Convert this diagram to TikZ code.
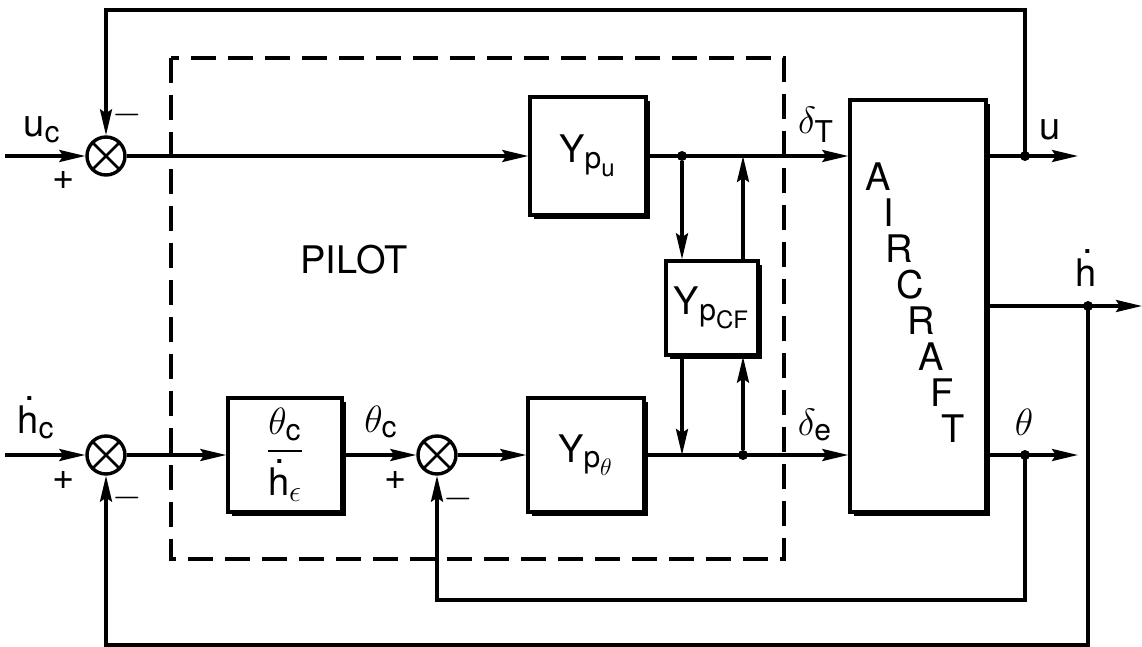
\documentclass[tikz,border=0pt]{standalone}
\usepackage{fix-cm}
\usepackage{amsmath}
\usepackage{fontspec}
\setmainfont{TeX Gyre Heros}
\DeclareMathSizes{19}{19}{15}{12}
\newcommand{\hdot}{\mbox{h\llap{\raisebox{0.86em}{.}\hspace{0.1em}}}}
\usetikzlibrary{arrows.meta,shadows,calc}

\begin{document}
\begin{tikzpicture}[x=0.5pt,y=-0.5pt,
    font=\fontsize{19}{22}\selectfont,
    sig/.style={line width=1.7pt, -{Stealth[length=13pt,width=6pt,inset=2pt]}},
    blockbox/.style={draw, line width=1.7pt, fill=white, inner sep=0pt,
        drop shadow={shadow xshift=1.8pt, shadow yshift=-1.8pt, opacity=1, fill=black}},
    sumnode/.style={circle, draw, line width=1.7pt, minimum size=19pt, inner sep=0pt,
        path picture={\draw[line width=1.4pt]
            (path picture bounding box.north west) -- (path picture bounding box.south east)
            (path picture bounding box.north east) -- (path picture bounding box.south west);}},
    dot/.style={circle, fill, inner sep=0pt, minimum size=5pt},
    lbl/.style={inner sep=0pt},
    pilotbox/.style={line width=1.7pt, dash pattern=on 12.5pt off 6pt}]
  \useasboundingbox (0,0) rectangle (1142,647);

  % pilot boundary
  \draw[pilotbox] (171,58) rectangle (784,559);
  \node[lbl] (pilot) at (354,260) {PILOT};

  % summing junctions and blocks
  \node[sumnode] (sum1) at (106,156) {};
  \node[sumnode] (sum2) at (106,455) {};
  \node[sumnode] (sum3) at (437,455) {};
  \node[blockbox, minimum width=58pt, minimum height=59pt] (ypu) at (588,156) {$\text{Y}_{\text{p}_\text{u}}$};
  \node[blockbox, minimum width=46pt, minimum height=47pt] (ycf) at (712,308) {$\text{Y}_{\text{p}_\text{CF}}$};
  \node[blockbox, minimum width=58pt, minimum height=57pt] (ypt) at (586,455) {$\text{Y}_{\text{p}_\theta}$};
  \node[blockbox, minimum width=57pt, minimum height=57pt] (gain) at (285,455) {$\dfrac{\theta_\text{c}}{\rule{0pt}{1.05em}\text{\hdot}_\epsilon}$};
  \node[blockbox, minimum width=68pt, minimum height=206pt] (ac) at (918,306) {};
  \foreach \ch [count=\i] in {A,I,R,C,R,A,F,T}
    \node[lbl] (ac\i) at ({878+10.7*(\i-1)},{177+36*(\i-1)}) {\ch};

  % junction points
  \node[dot] (j1) at (682,156) {};
  \coordinate (j2) at (743,156);
  \coordinate (k1) at (682,455);
  \node[dot] (k2) at (743,455) {};
  \node[dot] (uj) at (1025,156) {};
  \node[dot] (hj) at (1088,306) {};
  \node[dot] (tj) at (1025,455) {};
  \coordinate (in1) at (5,156);
  \coordinate (in2) at (5,455);
  \coordinate (uout) at (1078,156);
  \coordinate (hout) at (1142,306);
  \coordinate (tout) at (1078,455);
  \coordinate (utop) at (1025,10);
  \coordinate (hbot) at (1088,645);
  \coordinate (tbot) at (1025,600);

  % forward paths
  \draw[sig] (in1) -- (sum1);
  \draw[sig] (sum1) -- (ypu);
  \draw[sig] (ypu) -- (ac.west |- ypu);
  \draw[sig] (j1) -- (ycf.north -| j1);
  \draw[sig] (ycf.north -| j2) -- (j2);
  \draw[sig] (ycf.south -| k1) -- (k1);
  \draw[sig] (k2) -- (ycf.south -| k2);
  \draw[sig] (in2) -- (sum2);
  \draw[sig] (sum2) -- (gain);
  \draw[sig] (gain) -- (sum3);
  \draw[sig] (sum3) -- (ypt);
  \draw[sig] (ypt) -- (ac.west |- ypt);
  \draw[sig] (ac.east |- uj) -- (uout);
  \draw[sig] (ac.east |- hj) -- (hout);
  \draw[sig] (ac.east |- tj) -- (tout);

  % feedback loops
  \draw[sig] (uj.center) -- (utop) -| (sum1);
  \draw[sig] (hj.center) -- (hbot) -| (sum2);
  \draw[sig] (tj.center) -- (tbot) -| (sum3);

  % signal labels and signs
  \node[lbl] (uc) at (42,130) {$\text{u}_\text{c}$};
  \node[lbl] (hc) at (36,418) {$\text{\hdot}_\text{c}$};
  \node[lbl] (p1) at (64,180) {+};
  \node[lbl] (m1) at (127,115) {$-$};
  \node[lbl] (p2) at (64,480) {+};
  \node[lbl] (m2) at (127,498) {$-$};
  \node[lbl] (p3) at (396,480) {+};
  \node[lbl] (m3) at (458,499) {$-$};
  \node[lbl] (thc) at (381,422) {$\theta_\text{c}$};
  \node[lbl] (dT) at (816,125) {$\delta_\text{T}$};
  \node[lbl] (de) at (815,425) {$\delta_\text{e}$};
  \node[lbl] (uo) at (1050,130) {u};
  \node[lbl] (ho) at (1086,268) {\hdot};
  \node[lbl] (tho) at (1024,422) {$\theta$};
\end{tikzpicture}
\end{document}
